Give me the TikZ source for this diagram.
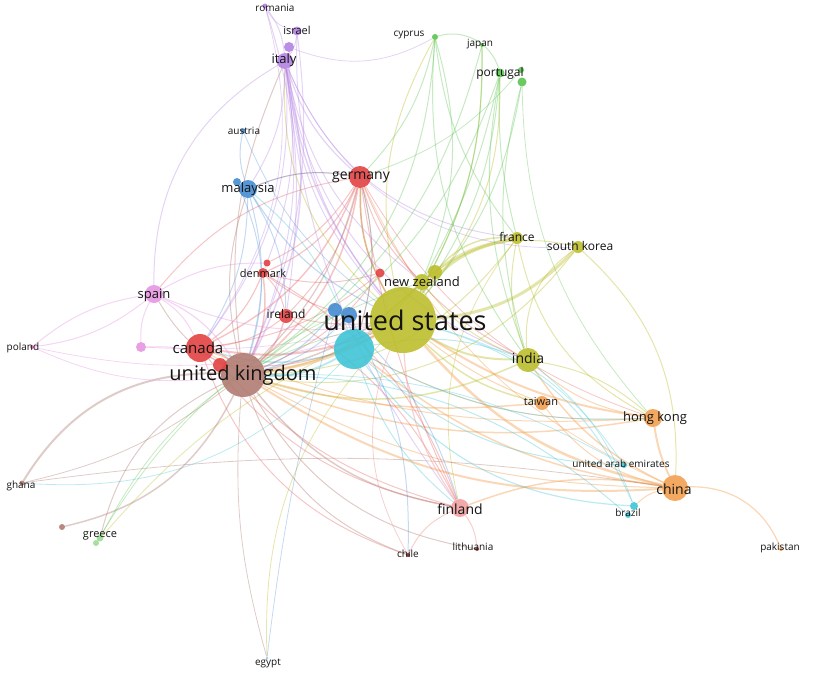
\documentclass[tikz,border=0pt]{standalone}
\usepackage{fontspec}
\setmainfont{Open Sans}
\pgfdeclarelayer{bg}
\pgfsetlayers{bg,main}
\definecolor{usY}{RGB}{188,190,44}
\definecolor{cyC}{RGB}{64,196,214}
\definecolor{blC}{RGB}{70,140,210}
\definecolor{ukB}{RGB}{176,124,114}
\definecolor{rdC}{RGB}{226,66,66}
\definecolor{pkC}{RGB}{230,150,225}
\definecolor{puC}{RGB}{180,130,226}
\definecolor{grC}{RGB}{90,195,80}
\definecolor{orC}{RGB}{242,160,80}
\definecolor{fiP}{RGB}{242,160,160}
\definecolor{txt}{RGB}{20,20,20}
\tikzset{
  x=1pt,y=-1pt,
  dot/.style={circle,inner sep=0pt,minimum size=#1,draw=none,fill opacity=0.9},
  lbl/.style={inner sep=0pt,text=txt,font=\fontsize{#1}{#1}\selectfont},
  eY/.style={draw=usY,draw opacity=0.4},
  eO/.style={draw=orC,draw opacity=0.42},
  eC/.style={draw=cyC,draw opacity=0.35},
  eR/.style={draw=rdC,draw opacity=0.3},
  eB/.style={draw=ukB,draw opacity=0.4},
  eP/.style={draw=puC,draw opacity=0.35},
  eK/.style={draw=pkC,draw opacity=0.4},
  eG/.style={draw=grC,draw opacity=0.35},
  eL/.style={draw=blC,draw opacity=0.32},
  eF/.style={draw=fiP,draw opacity=0.5},
}
\begin{document}
\begin{tikzpicture}
\useasboundingbox (0,0) rectangle (813,675);
% nodes
\node[dot=66,fill=usY] (us) at (403,320) {};
\node[dot=40,fill=cyC] (aus) at (354,349) {};
\node[dot=14,fill=blC] (b1) at (335,310) {};
\node[dot=16,fill=blC] (b2) at (349,315) {};
\node[dot=44,fill=ukB] (uk) at (243,375) {};
\node[dot=28,fill=rdC] (ca) at (200,348) {};
\node[dot=14,fill=rdC] (r1) at (220,365) {};
\node[dot=18,fill=pkC] (es) at (154,294) {};
\node[dot=10,fill=pkC] (pk1) at (141,347) {};
\node[dot=4,fill=pkC!70!purple] (pl) at (32,347) {};
\node[dot=10,fill=rdC] (dk) at (263,273) {};
\node[dot=7,fill=rdC] (dk2) at (267,263) {};
\node[dot=14,fill=rdC] (ie) at (286,316) {};
\node[dot=22,fill=rdC] (de) at (360,177) {};
\node[dot=9,fill=rdC] (r2) at (380,273) {};
\node[dot=16,fill=usY] (nz) at (422,282) {};
\node[dot=14,fill=usY] (nz2) at (435,272) {};
\node[dot=18,fill=blC] (my) at (248,189) {};
\node[dot=8,fill=blC] (my2) at (237,182) {};
\node[dot=5,fill=blC] (at) at (243,131) {};
\node[dot=16,fill=puC] (it) at (285,61) {};
\node[dot=10,fill=puC] (it2) at (289,47) {};
\node[dot=9,fill=puC] (il) at (297,31) {};
\node[dot=5,fill=puC] (ro) at (265,6) {};
\node[dot=6,fill=grC] (cy) at (435,37) {};
\node[dot=4,fill=grC] (jp) at (482,45) {};
\node[dot=9,fill=grC] (pt) at (500,73) {};
\node[dot=6,fill=grC] (pt2) at (521,70) {};
\node[dot=9,fill=grC] (pt3) at (522,82) {};
\node[dot=12,fill=usY] (fr) at (517,238) {};
\node[dot=12,fill=usY] (sk) at (578,247) {};
\node[dot=24,fill=usY] (in) at (528,360) {};
\node[dot=14,fill=orC] (tw) at (542,403) {};
\node[dot=18,fill=orC] (hk) at (653,418) {};
\node[dot=6,fill=cyC] (uae) at (624,465) {};
\node[dot=26,fill=orC] (cn) at (675,488) {};
\node[dot=8,fill=cyC] (br) at (634,506) {};
\node[dot=6,fill=cyC] (br2) at (628,515) {};
\node[dot=4,fill=orC] (pak) at (781,549) {};
\node[dot=18,fill=fiP] (fi) at (460,508) {};
\node[dot=4,fill=rdC!70!black] (lt) at (477,549) {};
\node[dot=4,fill=rdC!60!black] (ch) at (408,555) {};
\node[dot=3,fill=blC!50] (eg) at (267,658) {};
\node[dot=7,fill=grC!60] (gr) at (100,538) {};
\node[dot=6,fill=grC!60] (gr2) at (96,543) {};
\node[dot=6,fill=ukB] (bd) at (62,527) {};
\node[dot=5,fill=ukB] (gh) at (22,483) {};
% labels
\node[lbl=27] (us-l) at (405,320) {united states};
\node[lbl=20] (uk-l) at (243,375) {united kingdom};
\node[lbl=15] (ca-l) at (198,348) {canada};
\node[lbl=14] (de-l) at (361,177) {germany};
\node[lbl=13] (my-l) at (248,189) {malaysia};
\node[lbl=13] (it-l) at (284,60) {italy};
\node[lbl=11] (il-l) at (297,30) {israel};
\node[lbl=10] (ro-l) at (275,8) {romania};
\node[lbl=10] (at-l) at (244,131) {austria};
\node[lbl=10] (cy-l) at (409,35) {cyprus};
\node[lbl=10] (jp-l) at (480,44) {japan};
\node[lbl=12] (pt-l) at (500,73) {portugal};
\node[lbl=13] (es-l) at (154,295) {spain};
\node[lbl=10] (pl-l) at (23,348) {poland};
\node[lbl=11] (dk-l) at (263,273) {denmark};
\node[lbl=12] (ie-l) at (286,314) {ireland};
\node[lbl=13] (nz-l) at (422,282) {new zealand};
\node[lbl=12] (fr-l) at (517,237) {france};
\node[lbl=12] (sk-l) at (580,246) {south korea};
\node[lbl=14] (in-l) at (528,358) {india};
\node[lbl=11] (tw-l) at (541,402) {taiwan};
\node[lbl=13] (hk-l) at (655,418) {hong kong};
\node[lbl=10] (uae-l) at (621,464) {united arab emirates};
\node[lbl=14] (cn-l) at (674,489) {china};
\node[lbl=10] (br-l) at (628,513) {brazil};
\node[lbl=10] (pak-l) at (780,548) {pakistan};
\node[lbl=14] (fi-l) at (460,509) {finland};
\node[lbl=10] (lt-l) at (473,547) {lithuania};
\node[lbl=10] (ch-l) at (408,554) {chile};
\node[lbl=10] (eg-l) at (268,663) {egypt};
\node[lbl=11] (gr-l) at (100,536) {greece};
\node[lbl=10] (gh-l) at (21,486) {ghana};
% edges
\begin{pgfonlayer}{bg}
\foreach \a/\b/\w/\bb in {us/fr/3/20,us/sk/3/-20,us/in/2/-15,nz/fr/2/15,nz2/fr/1.5/25,nz/sk/1/25,us/tw/1.5/-15,in/sk/1/30,in/fr/1/15,us/cy/1/20,us/de/1.5/15,us/it/1/25,us/pt/1/-20,us/jp/1/-15,eg/us/0.8/22,fr/uk/1/25,sk/uk/1/30,in/uk/1.5/20,gr2/us/0.8/12,sk/cn/1/25,in/hk/1/15,fr/hk/1/-25,us/nz/2/8,nz/in/1/-15,fr/fi/0.8/-25,nz/uk/1.2/20}
  \draw[eY,line width=\w pt] (\a) to[bend left=\bb] (\b);
\foreach \a/\b/\w/\bb in {cn/us/2.5/18,hk/us/2/12,cn/uk/2/18,hk/uk/1.5/15,tw/uk/1.5/10,tw/us/1/8,cn/hk/2/8,cn/in/1.5/15,cn/tw/1/20,cn/pak/1.2/35,cn/fi/1.5/-15,cn/ca/1/15,cn/br/1/-15,cn/aus/1.5/15,hk/in/1/15,hk/aus/1/15,uk/us/3/-10,cn/de/0.8/20,hk/ca/1/12}
  \draw[eO,line width=\w pt] (\a) to[bend left=\bb] (\b);
\foreach \a/\b/\w/\bb in {aus/uk/2/15,aus/br/1.2/-25,aus/uae/1/-20,aus/in/1/15,aus/fi/1/-15,aus/gh/0.8/25,aus/ca/1.5/15,aus/de/1/-15,uae/uk/0.8/-15,br2/uk/1/-20,br/us/1/-25,uae/us/0.8/-20,br/in/0.8/-15,aus/my/1/-15,aus/hk/1/-15}
  \draw[eC,line width=\w pt] (\a) to[bend left=\bb] (\b);
\foreach \a/\b/\w/\bb in {de/uk/1.5/20,de/ca/1.5/20,de/us/1.5/-15,de/dk/1.2/20,de/ie/1/15,de/es/1/-20,de/fi/1/-8,de/nz/1/-15,de/in/1/-20,de/my/1/-15,ca/us/2/-15,ca/uk/1.5/15,ca/dk/1.2/-15,ca/ie/1/-15,ca/fi/1/-20,dk/uk/1.5/15,dk/us/1/-15,dk/ie/1/15,ie/uk/1.5/15,ie/us/1/-8,r2/uk/1/15,r2/ca/1/15,r1/us/1/-15,dk/fi/1/20,ie/fi/1/15,ca/ch/1/-25,r2/dk/1/15,de/aus/1/15,de/hk/0.8/-20,dk2/de/1/-15,r1/fi/1/-15}
  \draw[eR,line width=\w pt] (\a) to[bend left=\bb] (\b);
\foreach \a/\b/\w/\bb in {gh/uk/2/30,bd/uk/1.5/-25,gh/uk/0.8/-12,gr/uk/1/25,uk/ch/1/-25,uk/fi/1.5/-20,uk/lt/1/-25,uk/eg/0.8/-10,uk/es/1/15,uk/my/1/15,uk/it/1/15,uk/nz/1.5/-15,gh/cn/0.8/8,uk/de/1.2/-15}
  \draw[eB,line width=\w pt] (\a) to[bend left=\bb] (\b);
\foreach \a/\b/\w/\bb in {it/es/1/-30,it/uk/1.5/20,it/ca/1/20,it/us/1.5/-15,it/de/1.2/-15,it/my/1/15,it/dk/1/15,it/ie/1/8,it/fi/1/-15,it/nz/1/-20,it/fr/1/-30,it/in/1/-30,it/sk/0.8/-35,il/us/1/-20,il/uk/1/15,il/it/1/15,ro/it/1/15,ro/uk/1/20,ro/ca/0.8/25,ro/il/0.8/-25,it2/cy/0.8/-25,it2/us/1/-20}
  \draw[eP,line width=\w pt] (\a) to[bend left=\bb] (\b);
\foreach \a/\b/\w/\bb in {es/pl/1/15,pl/es/1/15,es/uk/1.2/15,es/ca/1/15,es/us/1/-15,dk2/es/1/-15,pk1/uk/1/15,pl/uk/0.8/-15,pl/us/0.8/-15,pk1/es/1/15,pk1/us/0.8/-8}
  \draw[eK,line width=\w pt] (\a) to[bend left=\bb] (\b);
\foreach \a/\b/\w/\bb in {cy/us/1/20,cy/uk/1/25,cy/de/1/15,cy/fr/1/-15,cy/in/1/-20,cy/pt/1/45,jp/us/1.2/15,jp/uk/1/20,pt/us/1/15,pt/uk/1/20,pt/fr/1/-8,pt/in/1/-15,pt/nz/1/8,pt3/us/1/15,pt3/in/1/-15,pt3/hk/0.8/-20,pt2/de/0.8/15,gr/us/0.8/25,gr2/nz/0.8/20}
  \draw[eG,line width=\w pt] (\a) to[bend left=\bb] (\b);
\foreach \a/\b/\w/\bb in {my/us/1.2/-15,my/uk/1/15,my/at/1/15,at/us/0.8/-15,b1/uk/1.2/15,b2/uk/1/15,my/ca/1/15,my/ie/1/15,b1/fi/1/15,b2/ch/1/15,eg/b1/0.8/4,my/de/1/15,my2/uk/1/20}
  \draw[eL,line width=\w pt] (\a) to[bend left=\bb] (\b);
\foreach \a/\b/\w/\bb in {fi/lt/1/15,fi/ch/1/-20,fi/us/1.2/15,ch/us/0.8/25}
  \draw[eF,line width=\w pt] (\a) to[bend left=\bb] (\b);
\end{pgfonlayer}
\end{tikzpicture}
\end{document}
